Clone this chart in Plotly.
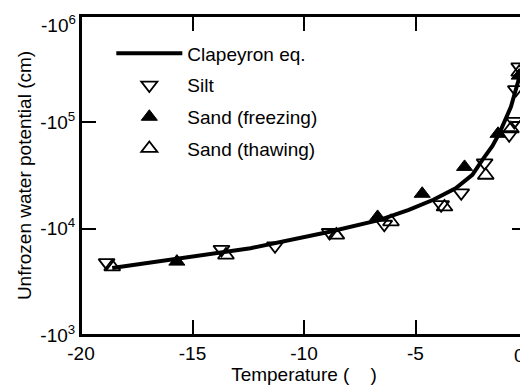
import plotly.graph_objects as go

# Clapeyron equation curve (magnitude of negative potential, cm)
clap_x = [-18.6, -12.4, -8.85, -6.6, -5.3, -4.2, -3.2, -2.45, -2.0, -1.55, -1.24, -0.72, -0.35]
clap_y = [4260, 6550, 9350, 12100, 15000, 18700, 24000, 32100, 44300, 60000, 78900, 140000, 262000]

# Silt
silt_x = [-18.85, -13.7, -11.3, -8.85, -6.4, -3.85, -2.95, -1.9, -0.8, -0.57, -0.5, -0.35]
silt_y = [4790, 6380, 6900, 9200, 11000, 16800, 21700, 41600, 76500, 102000, 203000, 332000]

# Sand (freezing)
freeze_x = [-15.7, -6.7, -4.7, -2.8, -1.3, -0.35]
freeze_y = [4900, 12900, 21300, 38100, 78000, 275000]

# Sand (thawing)
thaw_x = [-18.6, -13.5, -8.55, -6.1, -3.7, -1.85, -0.72, -0.35]
thaw_y = [4380, 5650, 8700, 11600, 16000, 31800, 87000, 296000]

x_ticks = [-20, -15, -10, -5, 0]
x_ticktext = ["-20", "-15", "-10", "-5", ""]
y_ticks = [1e3, 1e4, 1e5, 1e6]
y_ticktext = ["-10<sup>3</sup>", "-10<sup>4</sup>", "-10<sup>5</sup>", ""]
y_top_label = "-10<sup>6</sup>"

FONT = "Liberation Sans, Arial, sans-serif"
FS = 19

fig = go.Figure()
fig.add_trace(go.Scatter(x=clap_x, y=clap_y, mode="lines", name="Clapeyron eq.",
                         legendgroup="a", line=dict(color="black", width=4)))
fig.add_trace(go.Scatter(x=silt_x, y=silt_y, mode="markers", name="Silt", legendgroup="b",
                         marker=dict(symbol="triangle-down-open", size=14, color="black",
                                     line=dict(width=1.8, color="black"))))
fig.add_trace(go.Scatter(x=freeze_x, y=freeze_y, mode="markers", name="Sand (freezing)", legendgroup="c",
                         marker=dict(symbol="triangle-up", size=14, color="black",
                                     line=dict(width=1, color="black"))))
fig.add_trace(go.Scatter(x=thaw_x, y=thaw_y, mode="markers", name="Sand (thawing)", legendgroup="d",
                         marker=dict(symbol="triangle-up-open", size=14, color="black",
                                     line=dict(width=1.8, color="black"))))

axis_common = dict(showline=True, linecolor="black", linewidth=2, mirror="ticks",
                   ticks="inside", ticklen=15, tickwidth=2, tickcolor="black",
                   showgrid=False, zeroline=False, automargin=False,
                   ticklabeloverflow="allow",
                   tickfont=dict(family=FONT, size=FS, color="black"))

fig.update_xaxes(range=[-20, 0], tickvals=x_ticks, ticktext=x_ticktext,
                 title=dict(text="Temperature (    )", font=dict(family=FONT, size=FS, color="black"),
                            standoff=2),
                 **axis_common)
fig.update_yaxes(type="log", range=[3, 6], tickvals=y_ticks, ticktext=y_ticktext,
                 title=dict(text="Unfrozen water potential (cm)", font=dict(family=FONT, size=FS, color="black"),
                            standoff=4),
                 **axis_common)

# frame around plotting area
fig.add_shape(type="rect", xref="paper", yref="paper", x0=0, y0=0, x1=1, y1=1,
              line=dict(color="black", width=2), layer="above")

# "0" x label and top y label, kept inside the page
fig.add_annotation(x=0, y=-0.025, xref="x", yref="paper", text="0", showarrow=False,
                   xanchor="right", yanchor="top", font=dict(family=FONT, size=FS, color="black"))
fig.add_annotation(x=0, y=6, xref="paper", yref="y", text=y_top_label, showarrow=False,
                   xanchor="right", yanchor="top", xshift=-3, yshift=6,
                   font=dict(family=FONT, size=FS, color="black"))

fig.update_layout(
    width=520, height=381,
    margin=dict(l=73, r=1, t=8, b=54),
    paper_bgcolor="white", plot_bgcolor="white",
    font=dict(family=FONT, size=FS, color="black"),
    showlegend=True,
    legend=dict(x=0.068, y=0.942, xanchor="left", yanchor="top", bgcolor="rgba(0,0,0,0)",
                font=dict(family=FONT, size=FS, color="black"), tracegroupgap=4,
                itemwidth=66),
)

fig.write_html("out.html")
